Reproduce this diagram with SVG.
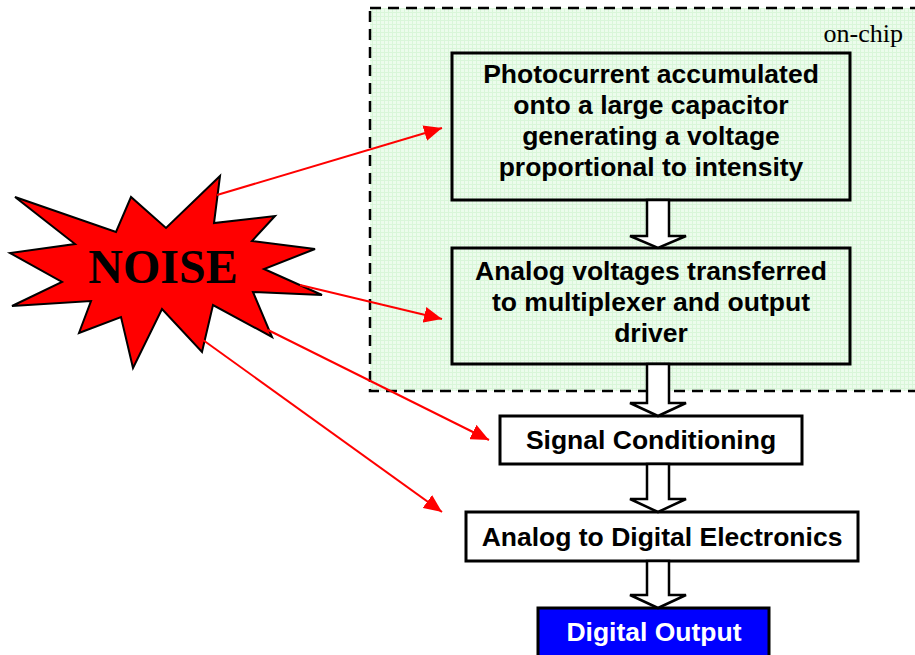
<svg xmlns="http://www.w3.org/2000/svg" width="915" height="655" viewBox="0 0 915 655">
<style>
.box{fill:#ffffff;stroke:#000;stroke-width:3}
.gbox{stroke:#000;stroke-width:3}
.t{font-family:"Liberation Sans",Arial,sans-serif;font-weight:bold;font-size:26.5px;fill:#000;text-anchor:middle}
.hollow{fill:#ffffff;stroke:#000;stroke-width:2.5;stroke-linejoin:miter}
.noise{stroke:#ff0000;stroke-width:2;fill:none;marker-end:url(#rh)}
</style>
<defs>
<pattern id="grid" width="4" height="4" patternUnits="userSpaceOnUse">
<rect width="4" height="4" fill="#ecfcec"/>
<path d="M0,0.5 H4 M0.5,0 V4" stroke="#d9f6d9" stroke-width="1"/>
</pattern>
<marker id="rh" markerUnits="userSpaceOnUse" markerWidth="20" markerHeight="16" refX="18" refY="8" orient="auto">
<path d="M0,0 L18,8 L0,16 z" fill="#ff0000"/>
</marker>
</defs>

<g id="onchip">
<rect x="370" y="8" width="560" height="383" fill="url(#grid)" stroke="#000" stroke-width="2.5" stroke-dasharray="11,7"/>
<text x="903" y="42" font-family="Liberation Serif,'Times New Roman',serif" font-size="26" text-anchor="end" fill="#000">on-chip</text>
</g>

<g id="node1">
<rect class="gbox" x="452" y="53" width="398" height="147" style="fill:url(#grid)"/>
<text class="t" x="651" y="83">Photocurrent accumulated</text>
<text class="t" x="651" y="114">onto a large capacitor</text>
<text class="t" x="651" y="145">generating a voltage</text>
<text class="t" x="651" y="176">proportional to intensity</text>
</g>

<g id="node2">
<rect class="gbox" x="452" y="248" width="398" height="116" style="fill:url(#grid)"/>
<text class="t" x="651" y="280">Analog voltages transferred</text>
<text class="t" x="651" y="311">to multiplexer and output</text>
<text class="t" x="651" y="342">driver</text>
</g>

<g id="node3">
<rect class="box" x="500" y="416" width="302" height="48"/>
<text class="t" x="651" y="449">Signal Conditioning</text>
</g>

<g id="node4">
<rect class="box" x="466" y="512" width="392" height="49"/>
<text class="t" x="662" y="546">Analog to Digital Electronics</text>
</g>

<g id="node5">
<rect x="538" y="608" width="231" height="52" fill="#0000ff" stroke="#000" stroke-width="3"/>
<text class="t" x="654" y="641" style="fill:#ffffff">Digital Output</text>
</g>

<g id="noise">
<polygon points="220,176 214,223 275,216 252,241 315,249 264,269 322,295 253,292 272,337 213,305 202,352 162,309 133,368 121,317 79,333 91,301 12,306 62,282 10,253 75,244 15,197 116,232 131,197 166,228" fill="#ff0000" stroke="#000" stroke-width="2" stroke-linejoin="miter"/>
<text x="163" y="283" font-family="Liberation Serif,'Times New Roman',serif" font-weight="bold" font-size="48" text-anchor="middle" fill="#000">NOISE</text>
</g>

<g id="connectors">
<path class="hollow" d="M647,200 V236 H630 L658,248 L686,236 H669 V200 Z"/>
<path class="hollow" d="M647,364 V403 H630 L658,416 L686,403 H669 V364 Z"/>
<path class="hollow" d="M647,464 V499 H630 L658,512 L686,499 H669 V464 Z"/>
<path class="hollow" d="M647,561 V595 H630 L658,608 L686,595 H669 V561 Z"/>
<line class="noise" x1="217" y1="195" x2="442" y2="128"/>
<line class="noise" x1="300" y1="285" x2="442" y2="319"/>
<line class="noise" x1="268" y1="330" x2="489" y2="440"/>
<line class="noise" x1="203" y1="340" x2="442" y2="512"/>
</g>
</svg>
